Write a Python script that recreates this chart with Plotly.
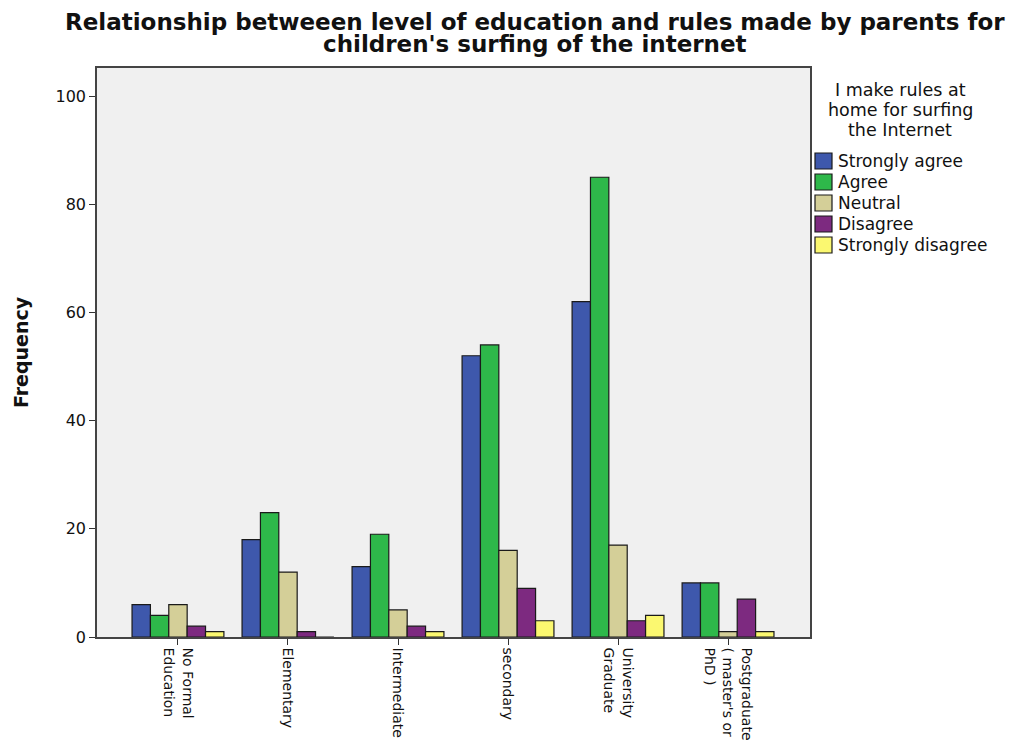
import plotly.graph_objects as go

# Education levels (x categories)
levels = [
    "No Formal<br>Education",
    "Elementary",
    "Intermediate",
    "secondary",
    "University<br>Graduate",
    "Postgraduate<br>( master's or<br>PhD )",
]

# Frequencies per response option
strongly_agree = [6, 18, 13, 52, 62, 10]
agree = [4, 23, 19, 54, 85, 10]
neutral = [6, 12, 5, 16, 17, 1]
disagree = [2, 1, 2, 9, 3, 7]
strongly_disagree = [1, 0, 1, 3, 4, 1]

response_names = ["Strongly agree", "Agree", "Neutral", "Disagree", "Strongly disagree"]
response_values = [strongly_agree, agree, neutral, disagree, strongly_disagree]
response_colors = ["#3E58AC", "#2EB84A", "#D4CF98", "#7D2A80", "#FBF870"]

title_lines = [
    "Relationship betweeen level of education and rules made by parents for",
    "children's surfing of the internet",
]
legend_title_lines = ["I make rules at", "home for surfing", "the Internet"]

FONT = "DejaVu Sans, Verdana, sans-serif"
INK = "#111111"

W, H = 1022, 744
M_L, M_R, M_T, M_B = 97, 212, 68, 107
PLOT_W = W - M_L - M_R
PLOT_H = H - M_T - M_B


def px_x(px):
    """Horizontal pixel position -> paper coordinate."""
    return (px - M_L) / PLOT_W


def px_y(py):
    """Vertical pixel position (from top) -> paper coordinate."""
    return (H - M_B - py) / PLOT_H


fig = go.Figure()
for name, vals, color in zip(response_names, response_values, response_colors):
    fig.add_trace(go.Bar(
        name=name,
        x=levels,
        y=vals,
        marker=dict(color=color, line=dict(color="#1a1a1a", width=1.2)),
        showlegend=False,
    ))

annotations = []
shapes = []

# Two-line chart title
for text, cy in zip(title_lines, [22, 44]):
    annotations.append(dict(
        text=f"<b>{text}</b>", xref="paper", yref="paper",
        x=px_x(535), y=px_y(cy), xanchor="center", yanchor="middle",
        showarrow=False, font=dict(family=FONT, size=23, color=INK),
    ))

# Legend title
for text, cy in zip(legend_title_lines, [90, 110, 130]):
    annotations.append(dict(
        text=text, xref="paper", yref="paper",
        x=px_x(900), y=px_y(cy), xanchor="center", yanchor="middle",
        showarrow=False, font=dict(family=FONT, size=17.5, color=INK),
    ))

# Legend entries: swatch + label
for i, (name, color) in enumerate(zip(response_names, response_colors)):
    cy = 161 + 21 * i
    shapes.append(dict(
        type="rect", xref="paper", yref="paper",
        x0=px_x(815), x1=px_x(832), y0=px_y(cy + 8), y1=px_y(cy - 8),
        fillcolor=color, line=dict(color="#1a1a1a", width=1.2),
    ))
    annotations.append(dict(
        text=name, xref="paper", yref="paper",
        x=px_x(836), y=px_y(cy), xanchor="left", yanchor="middle",
        showarrow=False, font=dict(family=FONT, size=17, color=INK),
    ))

fig.update_layout(
    width=W,
    height=H,
    margin=dict(l=M_L, r=M_R, t=M_T, b=M_B, autoexpand=False),
    paper_bgcolor="white",
    plot_bgcolor="#F0F0F0",
    barmode="group",
    bargap=0.165,
    bargroupgap=0,
    showlegend=False,
    font=dict(family=FONT, color=INK, size=14),
    annotations=annotations,
    shapes=shapes,
    xaxis=dict(
        type="category",
        range=[-0.736, 5.745],
        tickangle=90,
        ticks="outside",
        ticklen=6,
        tickcolor="#333333",
        tickfont=dict(family=FONT, size=14, color=INK),
        showgrid=False,
        showline=True,
        linecolor="#444444",
        linewidth=1.5,
        mirror=True,
        automargin=False,
    ),
    yaxis=dict(
        range=[0, 105.2],
        tickvals=[0, 20, 40, 60, 80, 100],
        ticks="outside",
        ticklen=6,
        tickcolor="#333333",
        tickfont=dict(family=FONT, size=16, color=INK),
        showgrid=False,
        zeroline=False,
        showline=True,
        linecolor="#444444",
        linewidth=1.5,
        mirror=True,
        automargin=False,
        title=dict(text="<b>Frequency</b>", font=dict(family=FONT, size=19, color=INK), standoff=22),
    ),
)

fig.write_html("out.html")
